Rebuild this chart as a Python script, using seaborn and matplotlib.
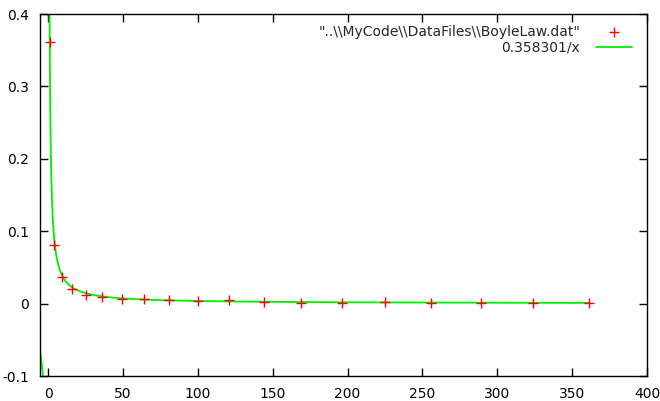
import numpy as np
import pandas as pd
import matplotlib
matplotlib.use('Agg')
import matplotlib.pyplot as plt
import seaborn as sns

# Data (volume vs pressure-ish)
x_vals = [1, 4, 9, 16, 25, 36, 49, 64, 81, 100, 121, 144, 169, 196, 225, 256, 289, 324, 361]
y_vals = [0.362, 0.0805, 0.0363, 0.0207, 0.012, 0.0087, 0.006, 0.006, 0.0046, 0.003,
          0.0045, 0.0023, 0.0012, 0.0014, 0.0016, 0.001, 0.001, 0.001, 0.001]
fit_coef = 0.358301
data_label = '"..\\\\MyCode\\\\DataFiles\\\\BoyleLaw.dat"'
fit_label = '0.358301/x'

sns.set_style('ticks')
plt.rcParams['font.family'] = ['DejaVu Sans']

df = pd.DataFrame({'x': x_vals, 'y': y_vals})

# fitted function sampled on both sides of the pole at x=0, up to last data point
xp = np.linspace(0.5, max(x_vals), 3000)
xn = np.linspace(-6, -0.5, 200)
fit_pos = pd.DataFrame({'x': xp, 'y': fit_coef / xp})
fit_neg = pd.DataFrame({'x': xn, 'y': fit_coef / xn})

fig = plt.figure(figsize=(6.6, 4.01), dpi=100)
ax = fig.add_axes([40 / 660, 1 - 376 / 401, 607 / 660, 362 / 401])

sns.scatterplot(data=df, x='x', y='y', ax=ax, marker='+', color='red', s=60,
                linewidth=1.0, label=data_label, zorder=3)
sns.lineplot(data=fit_pos, x='x', y='y', ax=ax, color='#00f000', linewidth=1.3,
             label=fit_label, sort=False, zorder=2)
sns.lineplot(data=fit_neg, x='x', y='y', ax=ax, color='#00f000', linewidth=1.3,
             sort=False, legend=False, zorder=2)

ax.set_xlim(-5.5, 400)
ax.set_ylim(-0.1, 0.4)
ax.set_xticks(np.arange(0, 401, 50))
ax.set_yticks([-0.1, 0, 0.1, 0.2, 0.3, 0.4])
ax.yaxis.set_major_formatter(matplotlib.ticker.FormatStrFormatter('%g'))
ax.set_xlabel('')
ax.set_ylabel('')
ax.tick_params(direction='in', length=6, width=1, top=True, right=True,
               labelsize=10, colors='black')
ax.tick_params(axis='x', pad=8)
ax.tick_params(axis='y', pad=8)
for s in ax.spines.values():
    s.set_visible(True)
    s.set_color('black')
    s.set_linewidth(1)

ax.legend(loc='upper right', frameon=False, markerfirst=False, fontsize=10,
          handlelength=2.6, handletextpad=1.1, labelspacing=0.1,
          borderaxespad=0.4, bbox_to_anchor=(0.993, 1.0))

fig.savefig('out.png', dpi=100)
